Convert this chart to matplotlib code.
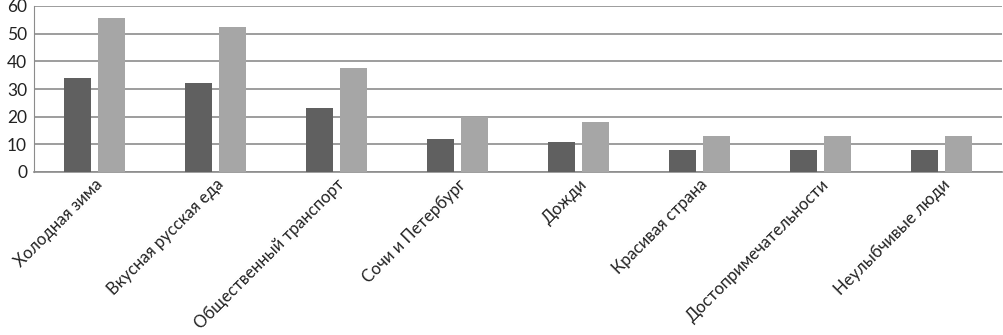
import matplotlib.pyplot as plt
import numpy as np

categories = ["Холодная зима", "Вкусная русская еда", "Общественный транспорт",
              "Сочи и Петербург", "Дожди", "Красивая страна",
              "Достопримечательности", "Неулыбчивые люди"]
series_dark = [34, 32, 23, 12, 11, 8, 8, 8]
series_light = [55.6, 52.5, 37.6, 20, 18, 13, 13, 13]
yticks = [0, 10, 20, 30, 40, 50, 60]

plt.rcParams['font.family'] = ['Lato', 'DejaVu Sans']

fig = plt.figure(figsize=(10.04, 3.35), dpi=100)
ax = fig.add_axes([34/1004, 163/335, 968/1004, 166/335])

x = np.arange(len(categories))
w = 0.22
ax.bar(x - 0.14, series_dark, width=w, color='#606060', zorder=3)
ax.bar(x + 0.14, series_light, width=w, color='#a6a6a6', zorder=3)

ax.set_xlim(-0.5, len(categories) - 0.5)
ax.set_ylim(0, 60)
ax.set_yticks(yticks)
ax.yaxis.grid(True, color='#8c8c8c', linewidth=1.2, zorder=0)
ax.set_axisbelow(True)
for s in ['top', 'right']:
    ax.spines[s].set_visible(False)
ax.spines['left'].set_color('#8c8c8c')
ax.spines['bottom'].set_color('#8c8c8c')
ax.spines['bottom'].set_linewidth(1.2)
ax.tick_params(axis='y', length=0, labelsize=12.5, colors='#222222', pad=5)
ax.tick_params(axis='x', length=0, labelsize=12, colors='#222222', pad=3)
ax.set_xticks(x)
ax.set_xticklabels(categories, rotation=45, ha='right', rotation_mode='anchor')

fig.savefig('out.png', dpi=100)
